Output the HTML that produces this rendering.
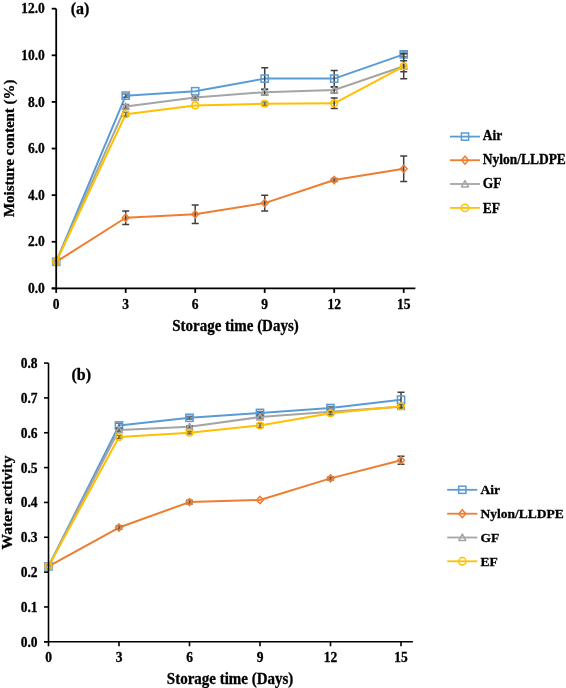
<!DOCTYPE html>
<html><head><meta charset="utf-8"><style>
html,body{margin:0;padding:0;background:#fff;width:566px;height:688px;overflow:hidden;}
svg{display:block;will-change:transform;}
</style></head><body>
<svg width="566" height="688" viewBox="0 0 566 688">
<rect width="566" height="688" fill="#fff"/>
<polyline points="56.20,261.83 125.70,95.63 195.20,91.20 264.70,78.61 334.20,78.61 403.70,54.37" fill="none" stroke="#5B9BD5" stroke-width="2" stroke-linejoin="round"/>
<path d="M125.70 94.03V97.23M122.20 94.03H129.20M122.20 97.23H129.20" stroke="#404040" stroke-width="1.5" fill="none" stroke-opacity="0.7"/>
<path d="M264.70 67.81V89.41M261.20 67.81H268.20M261.20 89.41H268.20" stroke="#404040" stroke-width="1.5" fill="none"/>
<path d="M334.20 70.41V86.81M330.70 70.41H337.70M330.70 86.81H337.70" stroke="#404040" stroke-width="1.5" fill="none"/>
<path d="M403.70 52.07V56.67M400.20 52.07H407.20M400.20 56.67H407.20" stroke="#404040" stroke-width="1.5" fill="none" stroke-opacity="0.7"/>
<rect x="52.60" y="258.23" width="7.20" height="7.20" fill="none" stroke="#5B9BD5" stroke-width="1.5"/>
<rect x="122.10" y="92.03" width="7.20" height="7.20" fill="none" stroke="#5B9BD5" stroke-width="1.5"/>
<rect x="191.60" y="87.60" width="7.20" height="7.20" fill="none" stroke="#5B9BD5" stroke-width="1.5"/>
<rect x="261.10" y="75.01" width="7.20" height="7.20" fill="none" stroke="#5B9BD5" stroke-width="1.5"/>
<rect x="330.60" y="75.01" width="7.20" height="7.20" fill="none" stroke="#5B9BD5" stroke-width="1.5"/>
<rect x="400.10" y="50.77" width="7.20" height="7.20" fill="none" stroke="#5B9BD5" stroke-width="1.5"/>
<polyline points="56.20,261.83 125.70,217.77 195.20,214.27 264.70,203.09 334.20,180.01 403.70,168.82" fill="none" stroke="#ED7D31" stroke-width="2" stroke-linejoin="round"/>
<path d="M125.70 210.97V224.57M122.20 210.97H129.20M122.20 224.57H129.20" stroke="#404040" stroke-width="1.5" fill="none"/>
<path d="M195.20 204.97V223.57M191.70 204.97H198.70M191.70 223.57H198.70" stroke="#404040" stroke-width="1.5" fill="none"/>
<path d="M264.70 195.29V210.89M261.20 195.29H268.20M261.20 210.89H268.20" stroke="#404040" stroke-width="1.5" fill="none"/>
<path d="M334.20 178.51V181.51M330.70 178.51H337.70M330.70 181.51H337.70" stroke="#404040" stroke-width="1.5" fill="none" stroke-opacity="0.7"/>
<path d="M403.70 156.02V181.62M400.20 156.02H407.20M400.20 181.62H407.20" stroke="#404040" stroke-width="1.5" fill="none"/>
<path d="M56.20 258.23L59.60 261.83L56.20 265.43L52.80 261.83Z" fill="none" stroke="#ED7D31" stroke-width="1.5"/>
<path d="M125.70 214.17L129.10 217.77L125.70 221.37L122.30 217.77Z" fill="none" stroke="#ED7D31" stroke-width="1.5"/>
<path d="M195.20 210.67L198.60 214.27L195.20 217.87L191.80 214.27Z" fill="none" stroke="#ED7D31" stroke-width="1.5"/>
<path d="M264.70 199.49L268.10 203.09L264.70 206.69L261.30 203.09Z" fill="none" stroke="#ED7D31" stroke-width="1.5"/>
<path d="M334.20 176.41L337.60 180.01L334.20 183.61L330.80 180.01Z" fill="none" stroke="#ED7D31" stroke-width="1.5"/>
<path d="M403.70 165.22L407.10 168.82L403.70 172.42L400.30 168.82Z" fill="none" stroke="#ED7D31" stroke-width="1.5"/>
<polyline points="56.20,261.83 125.70,106.58 195.20,97.49 264.70,92.13 334.20,90.03 403.70,66.26" fill="none" stroke="#A5A5A5" stroke-width="2" stroke-linejoin="round"/>
<path d="M125.70 104.58V108.58M122.20 104.58H129.20M122.20 108.58H129.20" stroke="#404040" stroke-width="1.5" fill="none" stroke-opacity="0.7"/>
<path d="M195.20 96.29V98.69M191.70 96.29H198.70M191.70 98.69H198.70" stroke="#404040" stroke-width="1.5" fill="none" stroke-opacity="0.7"/>
<path d="M264.70 89.33V94.93M261.20 89.33H268.20M261.20 94.93H268.20" stroke="#404040" stroke-width="1.5" fill="none"/>
<path d="M334.20 87.03V93.03M330.70 87.03H337.70M330.70 93.03H337.70" stroke="#404040" stroke-width="1.5" fill="none"/>
<path d="M403.70 60.76V71.76M400.20 60.76H407.20M400.20 71.76H407.20" stroke="#404040" stroke-width="1.5" fill="none"/>
<path d="M56.20 258.33L59.65 264.73L52.75 264.73Z" fill="none" stroke="#A5A5A5" stroke-width="1.5" stroke-linejoin="round"/>
<path d="M125.70 103.08L129.15 109.48L122.25 109.48Z" fill="none" stroke="#A5A5A5" stroke-width="1.5" stroke-linejoin="round"/>
<path d="M195.20 93.99L198.65 100.39L191.75 100.39Z" fill="none" stroke="#A5A5A5" stroke-width="1.5" stroke-linejoin="round"/>
<path d="M264.70 88.63L268.15 95.03L261.25 95.03Z" fill="none" stroke="#A5A5A5" stroke-width="1.5" stroke-linejoin="round"/>
<path d="M334.20 86.53L337.65 92.93L330.75 92.93Z" fill="none" stroke="#A5A5A5" stroke-width="1.5" stroke-linejoin="round"/>
<path d="M403.70 62.76L407.15 69.16L400.25 69.16Z" fill="none" stroke="#A5A5A5" stroke-width="1.5" stroke-linejoin="round"/>
<polyline points="56.20,261.83 125.70,114.27 195.20,105.42 264.70,103.78 334.20,103.32 403.70,66.26" fill="none" stroke="#FFC000" stroke-width="2" stroke-linejoin="round"/>
<path d="M125.70 112.27V116.27M122.20 112.27H129.20M122.20 116.27H129.20" stroke="#404040" stroke-width="1.5" fill="none" stroke-opacity="0.7"/>
<path d="M264.70 102.08V105.48M261.20 102.08H268.20M261.20 105.48H268.20" stroke="#404040" stroke-width="1.5" fill="none" stroke-opacity="0.7"/>
<path d="M334.20 98.02V108.62M330.70 98.02H337.70M330.70 108.62H337.70" stroke="#404040" stroke-width="1.5" fill="none"/>
<path d="M403.70 53.66V78.86M400.20 53.66H407.20M400.20 78.86H407.20" stroke="#404040" stroke-width="1.5" fill="none"/>
<circle cx="56.20" cy="261.83" r="3.3" fill="none" stroke="#FFC000" stroke-width="1.5"/>
<circle cx="125.70" cy="114.27" r="3.3" fill="none" stroke="#FFC000" stroke-width="1.5"/>
<circle cx="195.20" cy="105.42" r="3.3" fill="none" stroke="#FFC000" stroke-width="1.5"/>
<circle cx="264.70" cy="103.78" r="3.3" fill="none" stroke="#FFC000" stroke-width="1.5"/>
<circle cx="334.20" cy="103.32" r="3.3" fill="none" stroke="#FFC000" stroke-width="1.5"/>
<circle cx="403.70" cy="66.26" r="3.3" fill="none" stroke="#FFC000" stroke-width="1.5"/>
<path d="M56.2 8.7V288.4M51.7 288.4H415.4" stroke="#000" stroke-width="1.8" fill="none"/>
<path d="M51.7 288.40H56.2" stroke="#000" stroke-width="1.8"/>
<text transform="translate(44.80 293.10) scale(1 1.02)" text-anchor="end" font-size="13.5" font-family="Liberation Serif" font-weight="bold" stroke="#000" stroke-width="0.3">0.0</text>
<path d="M51.7 241.78H56.2" stroke="#000" stroke-width="1.8"/>
<text transform="translate(44.80 246.48) scale(1 1.02)" text-anchor="end" font-size="13.5" font-family="Liberation Serif" font-weight="bold" stroke="#000" stroke-width="0.3">2.0</text>
<path d="M51.7 195.16H56.2" stroke="#000" stroke-width="1.8"/>
<text transform="translate(44.80 199.86) scale(1 1.02)" text-anchor="end" font-size="13.5" font-family="Liberation Serif" font-weight="bold" stroke="#000" stroke-width="0.3">4.0</text>
<path d="M51.7 148.54H56.2" stroke="#000" stroke-width="1.8"/>
<text transform="translate(44.80 153.24) scale(1 1.02)" text-anchor="end" font-size="13.5" font-family="Liberation Serif" font-weight="bold" stroke="#000" stroke-width="0.3">6.0</text>
<path d="M51.7 101.92H56.2" stroke="#000" stroke-width="1.8"/>
<text transform="translate(44.80 106.62) scale(1 1.02)" text-anchor="end" font-size="13.5" font-family="Liberation Serif" font-weight="bold" stroke="#000" stroke-width="0.3">8.0</text>
<path d="M51.7 55.30H56.2" stroke="#000" stroke-width="1.8"/>
<text transform="translate(44.80 60.00) scale(1 1.02)" text-anchor="end" font-size="13.5" font-family="Liberation Serif" font-weight="bold" stroke="#000" stroke-width="0.3">10.0</text>
<path d="M51.7 8.68H56.2" stroke="#000" stroke-width="1.8"/>
<text transform="translate(44.80 13.38) scale(1 1.02)" text-anchor="end" font-size="13.5" font-family="Liberation Serif" font-weight="bold" stroke="#000" stroke-width="0.3">12.0</text>
<path d="M56.20 288.4V292.9" stroke="#000" stroke-width="1.8"/>
<text transform="translate(56.20 308.90) scale(1 1.02)" text-anchor="middle" font-size="13.5" font-family="Liberation Serif" font-weight="bold" stroke="#000" stroke-width="0.3">0</text>
<path d="M125.70 288.4V292.9" stroke="#000" stroke-width="1.8"/>
<text transform="translate(125.70 308.90) scale(1 1.02)" text-anchor="middle" font-size="13.5" font-family="Liberation Serif" font-weight="bold" stroke="#000" stroke-width="0.3">3</text>
<path d="M195.20 288.4V292.9" stroke="#000" stroke-width="1.8"/>
<text transform="translate(195.20 308.90) scale(1 1.02)" text-anchor="middle" font-size="13.5" font-family="Liberation Serif" font-weight="bold" stroke="#000" stroke-width="0.3">6</text>
<path d="M264.70 288.4V292.9" stroke="#000" stroke-width="1.8"/>
<text transform="translate(264.70 308.90) scale(1 1.02)" text-anchor="middle" font-size="13.5" font-family="Liberation Serif" font-weight="bold" stroke="#000" stroke-width="0.3">9</text>
<path d="M334.20 288.4V292.9" stroke="#000" stroke-width="1.8"/>
<text transform="translate(334.20 308.90) scale(1 1.02)" text-anchor="middle" font-size="13.5" font-family="Liberation Serif" font-weight="bold" stroke="#000" stroke-width="0.3">12</text>
<path d="M403.70 288.4V292.9" stroke="#000" stroke-width="1.8"/>
<text transform="translate(403.70 308.90) scale(1 1.02)" text-anchor="middle" font-size="13.5" font-family="Liberation Serif" font-weight="bold" stroke="#000" stroke-width="0.3">15</text>
<text transform="translate(235.50 330.50) scale(1 1.05)" text-anchor="middle" font-size="15" font-family="Liberation Serif" font-weight="bold" stroke="#000" stroke-width="0.3">Storage time (Days)</text>
<text transform="translate(13.7 148.3) rotate(-90) scale(0.997 1)" text-anchor="middle" font-size="15" font-family="Liberation Serif" font-weight="bold" stroke="#000" stroke-width="0.3">Moisture content (%)</text>
<text transform="translate(70.80 14.20) scale(1 1.05)" font-size="16" font-family="Liberation Serif" font-weight="bold" stroke="#000" stroke-width="0.3">(a)</text>
<path d="M450 136.6H480" stroke="#5B9BD5" stroke-width="1.8"/>
<rect x="461.40" y="133.00" width="7.20" height="7.20" fill="none" stroke="#5B9BD5" stroke-width="1.5"/>
<text transform="translate(482.70 140.00) scale(1 1.03)" font-size="13.5" font-family="Liberation Serif" font-weight="bold" stroke="#000" stroke-width="0.3">Air</text>
<path d="M450 160.2H480" stroke="#ED7D31" stroke-width="1.8"/>
<path d="M465.00 156.20L468.40 160.20L465.00 164.20L461.60 160.20Z" fill="none" stroke="#ED7D31" stroke-width="1.5"/>
<text transform="translate(482.70 164.00) scale(1 1.03)" font-size="13.5" font-family="Liberation Serif" font-weight="bold" stroke="#000" stroke-width="0.3">Nylon/LLDPE</text>
<path d="M450 184H480" stroke="#A5A5A5" stroke-width="1.8"/>
<path d="M465.00 180.50L468.45 186.90L461.55 186.90Z" fill="none" stroke="#A5A5A5" stroke-width="1.5" stroke-linejoin="round"/>
<text transform="translate(482.70 188.20) scale(1 1.03)" font-size="13.5" font-family="Liberation Serif" font-weight="bold" stroke="#000" stroke-width="0.3">GF</text>
<path d="M450 207.9H480" stroke="#FFC000" stroke-width="1.8"/>
<circle cx="465.00" cy="207.90" r="3.7" fill="none" stroke="#FFC000" stroke-width="1.5"/>
<text transform="translate(482.70 212.60) scale(1 1.03)" font-size="13.5" font-family="Liberation Serif" font-weight="bold" stroke="#000" stroke-width="0.3">EF</text>
<polyline points="48.50,566.37 119.00,425.44 189.50,417.78 260.00,412.90 330.50,408.02 401.00,399.66" fill="none" stroke="#5B9BD5" stroke-width="2" stroke-linejoin="round"/>
<path d="M119.00 423.24V427.64M115.50 423.24H122.50M115.50 427.64H122.50" stroke="#404040" stroke-width="1.5" fill="none" stroke-opacity="0.7"/>
<path d="M189.50 416.28V419.28M186.00 416.28H193.00M186.00 419.28H193.00" stroke="#404040" stroke-width="1.5" fill="none" stroke-opacity="0.7"/>
<path d="M260.00 411.40V414.40M256.50 411.40H263.50M256.50 414.40H263.50" stroke="#404040" stroke-width="1.5" fill="none" stroke-opacity="0.7"/>
<path d="M330.50 406.52V409.52M327.00 406.52H334.00M327.00 409.52H334.00" stroke="#404040" stroke-width="1.5" fill="none" stroke-opacity="0.7"/>
<path d="M401.00 392.16V407.16M397.50 392.16H404.50M397.50 407.16H404.50" stroke="#404040" stroke-width="1.5" fill="none"/>
<rect x="44.90" y="562.77" width="7.20" height="7.20" fill="none" stroke="#5B9BD5" stroke-width="1.5"/>
<rect x="115.40" y="421.84" width="7.20" height="7.20" fill="none" stroke="#5B9BD5" stroke-width="1.5"/>
<rect x="185.90" y="414.18" width="7.20" height="7.20" fill="none" stroke="#5B9BD5" stroke-width="1.5"/>
<rect x="256.40" y="409.30" width="7.20" height="7.20" fill="none" stroke="#5B9BD5" stroke-width="1.5"/>
<rect x="326.90" y="404.42" width="7.20" height="7.20" fill="none" stroke="#5B9BD5" stroke-width="1.5"/>
<rect x="397.40" y="396.06" width="7.20" height="7.20" fill="none" stroke="#5B9BD5" stroke-width="1.5"/>
<polyline points="48.50,566.37 119.00,527.52 189.50,502.09 260.00,500.00 330.50,478.40 401.00,460.28" fill="none" stroke="#ED7D31" stroke-width="2" stroke-linejoin="round"/>
<path d="M119.00 525.72V529.32M115.50 525.72H122.50M115.50 529.32H122.50" stroke="#404040" stroke-width="1.5" fill="none" stroke-opacity="0.7"/>
<path d="M189.50 500.29V503.89M186.00 500.29H193.00M186.00 503.89H193.00" stroke="#404040" stroke-width="1.5" fill="none" stroke-opacity="0.7"/>
<path d="M330.50 476.90V479.90M327.00 476.90H334.00M327.00 479.90H334.00" stroke="#404040" stroke-width="1.5" fill="none" stroke-opacity="0.7"/>
<path d="M401.00 456.28V464.28M397.50 456.28H404.50M397.50 464.28H404.50" stroke="#404040" stroke-width="1.5" fill="none"/>
<path d="M48.50 562.77L51.90 566.37L48.50 569.97L45.10 566.37Z" fill="none" stroke="#ED7D31" stroke-width="1.5"/>
<path d="M119.00 523.92L122.40 527.52L119.00 531.12L115.60 527.52Z" fill="none" stroke="#ED7D31" stroke-width="1.5"/>
<path d="M189.50 498.49L192.90 502.09L189.50 505.69L186.10 502.09Z" fill="none" stroke="#ED7D31" stroke-width="1.5"/>
<path d="M260.00 496.40L263.40 500.00L260.00 503.60L256.60 500.00Z" fill="none" stroke="#ED7D31" stroke-width="1.5"/>
<path d="M330.50 474.80L333.90 478.40L330.50 482.00L327.10 478.40Z" fill="none" stroke="#ED7D31" stroke-width="1.5"/>
<path d="M401.00 456.68L404.40 460.28L401.00 463.88L397.60 460.28Z" fill="none" stroke="#ED7D31" stroke-width="1.5"/>
<polyline points="48.50,566.37 119.00,429.97 189.50,426.84 260.00,417.08 330.50,411.86 401.00,406.63" fill="none" stroke="#A5A5A5" stroke-width="2" stroke-linejoin="round"/>
<path d="M119.00 428.47V431.47M115.50 428.47H122.50M115.50 431.47H122.50" stroke="#404040" stroke-width="1.5" fill="none" stroke-opacity="0.7"/>
<path d="M189.50 425.64V428.04M186.00 425.64H193.00M186.00 428.04H193.00" stroke="#404040" stroke-width="1.5" fill="none" stroke-opacity="0.7"/>
<path d="M260.00 415.58V418.58M256.50 415.58H263.50M256.50 418.58H263.50" stroke="#404040" stroke-width="1.5" fill="none" stroke-opacity="0.7"/>
<path d="M330.50 410.66V413.06M327.00 410.66H334.00M327.00 413.06H334.00" stroke="#404040" stroke-width="1.5" fill="none" stroke-opacity="0.7"/>
<path d="M401.00 405.13V408.13M397.50 405.13H404.50M397.50 408.13H404.50" stroke="#404040" stroke-width="1.5" fill="none" stroke-opacity="0.7"/>
<path d="M48.50 562.87L51.95 569.27L45.05 569.27Z" fill="none" stroke="#A5A5A5" stroke-width="1.5" stroke-linejoin="round"/>
<path d="M119.00 426.47L122.45 432.87L115.55 432.87Z" fill="none" stroke="#A5A5A5" stroke-width="1.5" stroke-linejoin="round"/>
<path d="M189.50 423.34L192.95 429.74L186.05 429.74Z" fill="none" stroke="#A5A5A5" stroke-width="1.5" stroke-linejoin="round"/>
<path d="M260.00 413.58L263.45 419.98L256.55 419.98Z" fill="none" stroke="#A5A5A5" stroke-width="1.5" stroke-linejoin="round"/>
<path d="M330.50 408.36L333.95 414.76L327.05 414.76Z" fill="none" stroke="#A5A5A5" stroke-width="1.5" stroke-linejoin="round"/>
<path d="M401.00 403.13L404.45 409.53L397.55 409.53Z" fill="none" stroke="#A5A5A5" stroke-width="1.5" stroke-linejoin="round"/>
<polyline points="48.50,566.37 119.00,436.94 189.50,432.76 260.00,425.44 330.50,413.25 401.00,406.28" fill="none" stroke="#FFC000" stroke-width="2" stroke-linejoin="round"/>
<path d="M119.00 435.44V438.44M115.50 435.44H122.50M115.50 438.44H122.50" stroke="#404040" stroke-width="1.5" fill="none" stroke-opacity="0.7"/>
<path d="M189.50 431.56V433.96M186.00 431.56H193.00M186.00 433.96H193.00" stroke="#404040" stroke-width="1.5" fill="none" stroke-opacity="0.7"/>
<path d="M260.00 423.44V427.44M256.50 423.44H263.50M256.50 427.44H263.50" stroke="#404040" stroke-width="1.5" fill="none" stroke-opacity="0.7"/>
<path d="M330.50 411.75V414.75M327.00 411.75H334.00M327.00 414.75H334.00" stroke="#404040" stroke-width="1.5" fill="none" stroke-opacity="0.7"/>
<path d="M401.00 404.28V408.28M397.50 404.28H404.50M397.50 408.28H404.50" stroke="#404040" stroke-width="1.5" fill="none" stroke-opacity="0.7"/>
<circle cx="48.50" cy="566.37" r="3.3" fill="none" stroke="#FFC000" stroke-width="1.5"/>
<circle cx="119.00" cy="436.94" r="3.3" fill="none" stroke="#FFC000" stroke-width="1.5"/>
<circle cx="189.50" cy="432.76" r="3.3" fill="none" stroke="#FFC000" stroke-width="1.5"/>
<circle cx="260.00" cy="425.44" r="3.3" fill="none" stroke="#FFC000" stroke-width="1.5"/>
<circle cx="330.50" cy="413.25" r="3.3" fill="none" stroke="#FFC000" stroke-width="1.5"/>
<circle cx="401.00" cy="406.28" r="3.3" fill="none" stroke="#FFC000" stroke-width="1.5"/>
<path d="M48.5 363.0V641.8M44.0 641.8H412.9" stroke="#000" stroke-width="1.6" fill="none"/>
<path d="M44.0 641.80H48.5" stroke="#000" stroke-width="1.6"/>
<text transform="translate(37.50 646.70) scale(1 1.02)" text-anchor="end" font-size="13.5" font-family="Liberation Serif" font-weight="bold" stroke="#000" stroke-width="0.3">0.0</text>
<path d="M44.0 606.96H48.5" stroke="#000" stroke-width="1.6"/>
<text transform="translate(37.50 611.86) scale(1 1.02)" text-anchor="end" font-size="13.5" font-family="Liberation Serif" font-weight="bold" stroke="#000" stroke-width="0.3">0.1</text>
<path d="M44.0 572.12H48.5" stroke="#000" stroke-width="1.6"/>
<text transform="translate(37.50 577.02) scale(1 1.02)" text-anchor="end" font-size="13.5" font-family="Liberation Serif" font-weight="bold" stroke="#000" stroke-width="0.3">0.2</text>
<path d="M44.0 537.28H48.5" stroke="#000" stroke-width="1.6"/>
<text transform="translate(37.50 542.18) scale(1 1.02)" text-anchor="end" font-size="13.5" font-family="Liberation Serif" font-weight="bold" stroke="#000" stroke-width="0.3">0.3</text>
<path d="M44.0 502.44H48.5" stroke="#000" stroke-width="1.6"/>
<text transform="translate(37.50 507.34) scale(1 1.02)" text-anchor="end" font-size="13.5" font-family="Liberation Serif" font-weight="bold" stroke="#000" stroke-width="0.3">0.4</text>
<path d="M44.0 467.60H48.5" stroke="#000" stroke-width="1.6"/>
<text transform="translate(37.50 472.50) scale(1 1.02)" text-anchor="end" font-size="13.5" font-family="Liberation Serif" font-weight="bold" stroke="#000" stroke-width="0.3">0.5</text>
<path d="M44.0 432.76H48.5" stroke="#000" stroke-width="1.6"/>
<text transform="translate(37.50 437.66) scale(1 1.02)" text-anchor="end" font-size="13.5" font-family="Liberation Serif" font-weight="bold" stroke="#000" stroke-width="0.3">0.6</text>
<path d="M44.0 397.92H48.5" stroke="#000" stroke-width="1.6"/>
<text transform="translate(37.50 402.82) scale(1 1.02)" text-anchor="end" font-size="13.5" font-family="Liberation Serif" font-weight="bold" stroke="#000" stroke-width="0.3">0.7</text>
<path d="M44.0 363.08H48.5" stroke="#000" stroke-width="1.6"/>
<text transform="translate(37.50 367.98) scale(1 1.02)" text-anchor="end" font-size="13.5" font-family="Liberation Serif" font-weight="bold" stroke="#000" stroke-width="0.3">0.8</text>
<path d="M48.50 641.8V646.3" stroke="#000" stroke-width="1.6"/>
<text transform="translate(48.50 662.20) scale(1 1.02)" text-anchor="middle" font-size="13.5" font-family="Liberation Serif" font-weight="bold" stroke="#000" stroke-width="0.3">0</text>
<path d="M119.00 641.8V646.3" stroke="#000" stroke-width="1.6"/>
<text transform="translate(119.00 662.20) scale(1 1.02)" text-anchor="middle" font-size="13.5" font-family="Liberation Serif" font-weight="bold" stroke="#000" stroke-width="0.3">3</text>
<path d="M189.50 641.8V646.3" stroke="#000" stroke-width="1.6"/>
<text transform="translate(189.50 662.20) scale(1 1.02)" text-anchor="middle" font-size="13.5" font-family="Liberation Serif" font-weight="bold" stroke="#000" stroke-width="0.3">6</text>
<path d="M260.00 641.8V646.3" stroke="#000" stroke-width="1.6"/>
<text transform="translate(260.00 662.20) scale(1 1.02)" text-anchor="middle" font-size="13.5" font-family="Liberation Serif" font-weight="bold" stroke="#000" stroke-width="0.3">9</text>
<path d="M330.50 641.8V646.3" stroke="#000" stroke-width="1.6"/>
<text transform="translate(330.50 662.20) scale(1 1.02)" text-anchor="middle" font-size="13.5" font-family="Liberation Serif" font-weight="bold" stroke="#000" stroke-width="0.3">12</text>
<path d="M401.00 641.8V646.3" stroke="#000" stroke-width="1.6"/>
<text transform="translate(401.00 662.20) scale(1 1.02)" text-anchor="middle" font-size="13.5" font-family="Liberation Serif" font-weight="bold" stroke="#000" stroke-width="0.3">15</text>
<text transform="translate(230.10 684.20) scale(1 1.05)" text-anchor="middle" font-size="15" font-family="Liberation Serif" font-weight="bold" stroke="#000" stroke-width="0.3">Storage time (Days)</text>
<text transform="translate(12.2 502.5) rotate(-90) scale(1.034 1)" text-anchor="middle" font-size="15" font-family="Liberation Serif" font-weight="bold" stroke="#000" stroke-width="0.3">Water activity</text>
<text transform="translate(71.50 379.70) scale(1 1.05)" font-size="16" font-family="Liberation Serif" font-weight="bold" stroke="#000" stroke-width="0.3">(b)</text>
<path d="M447.2 489.8H477.3" stroke="#5B9BD5" stroke-width="1.8"/>
<rect x="458.70" y="486.20" width="7.20" height="7.20" fill="none" stroke="#5B9BD5" stroke-width="1.5"/>
<text transform="translate(480.40 494.30) scale(1 1.0)" font-size="13.5" font-family="Liberation Serif" font-weight="bold" stroke="#000" stroke-width="0.3">Air</text>
<path d="M447.2 513.7H477.3" stroke="#ED7D31" stroke-width="1.8"/>
<path d="M462.30 509.70L465.70 513.70L462.30 517.70L458.90 513.70Z" fill="none" stroke="#ED7D31" stroke-width="1.5"/>
<text transform="translate(480.40 518.20) scale(1 1.0)" font-size="13.5" font-family="Liberation Serif" font-weight="bold" stroke="#000" stroke-width="0.3">Nylon/LLDPE</text>
<path d="M447.2 537.5H477.3" stroke="#A5A5A5" stroke-width="1.8"/>
<path d="M462.30 534.00L465.75 540.40L458.85 540.40Z" fill="none" stroke="#A5A5A5" stroke-width="1.5" stroke-linejoin="round"/>
<text transform="translate(480.40 542.40) scale(1 1.0)" font-size="13.5" font-family="Liberation Serif" font-weight="bold" stroke="#000" stroke-width="0.3">GF</text>
<path d="M447.2 561.3H477.3" stroke="#FFC000" stroke-width="1.8"/>
<circle cx="462.30" cy="561.30" r="3.7" fill="none" stroke="#FFC000" stroke-width="1.5"/>
<text transform="translate(480.40 566.20) scale(1 1.0)" font-size="13.5" font-family="Liberation Serif" font-weight="bold" stroke="#000" stroke-width="0.3">EF</text>
</svg>
</body></html>
